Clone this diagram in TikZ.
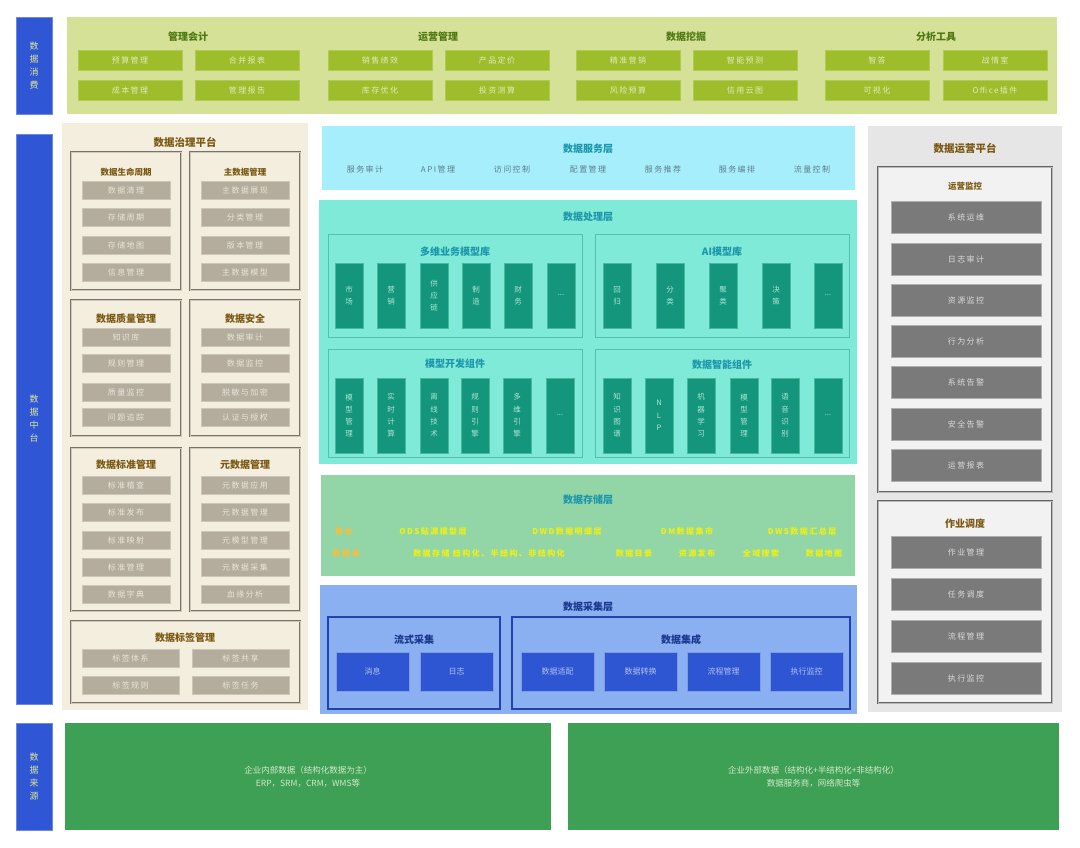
\documentclass[tikz,border=0pt]{standalone}
\usepackage{fontspec}
\setmainfont{Noto Sans CJK SC}
\newfontfamily\spfont{Noto Sans CJK SC}[LetterSpace=18]
\definecolor{lblue}{RGB}{47,86,212}
\definecolor{lbltext}{RGB}{225,232,150}
\definecolor{band}{RGB}{212,225,150}
\definecolor{bandtitle}{RGB}{78,120,18}
\definecolor{bitem}{RGB}{157,189,43}
\definecolor{bitemtext}{RGB}{225,236,185}
\definecolor{cream}{RGB}{243,238,222}
\definecolor{gborder}{RGB}{122,114,106}
\definecolor{brown}{RGB}{122,88,18}
\definecolor{gitem}{RGB}{180,173,157}
\definecolor{gitemtext}{RGB}{232,228,218}
\definecolor{svc}{RGB}{166,238,252}
\definecolor{teal}{RGB}{28,150,170}
\definecolor{svctext}{RGB}{95,125,140}
\definecolor{proc}{RGB}{128,234,216}
\definecolor{procborder}{RGB}{88,192,170}
\definecolor{bar}{RGB}{20,150,125}
\definecolor{barborder}{RGB}{70,185,155}
\definecolor{bartext}{RGB}{175,228,212}
\definecolor{stor}{RGB}{146,214,168}
\definecolor{storyellow}{RGB}{238,240,20}
\definecolor{stororange}{RGB}{245,190,60}
\definecolor{coll}{RGB}{138,176,242}
\definecolor{colltitle}{RGB}{25,55,140}
\definecolor{collborder}{RGB}{35,65,170}
\definecolor{cbox}{RGB}{47,86,210}
\definecolor{cboxtext}{RGB}{175,192,240}
\definecolor{opsbg}{RGB}{230,230,230}
\definecolor{opssub}{RGB}{242,242,242}
\definecolor{opsborder}{RGB}{100,100,100}
\definecolor{opsitem}{RGB}{122,122,122}
\definecolor{opstext}{RGB}{218,218,218}
\definecolor{src}{RGB}{61,160,85}
\definecolor{srctext}{RGB}{212,232,200}
\newcommand\bx[7]{\node[#6, minimum width={(#4)-(#2)}, minimum height={(#5)-(#3)}] (#1) at ({((#2)+(#4))/2},{((#3)+(#5))/2}) {#7};}
\tikzset{
  every node/.style={inner sep=0pt, outer sep=0pt},
  lbl/.style={fill=lblue, draw=lblue!70!white, line width=0.6pt, text=lbltext, align=center, font=\fontsize{9}{13}\selectfont},
  bandbg/.style={fill=band},
  bandttl/.style={text=bandtitle, font=\fontsize{10}{12}\selectfont\bfseries},
  bitembox/.style={fill=bitem, draw=bitem!80!white, line width=0.5pt, text=bitemtext, font=\fontsize{8}{9}\selectfont\spfont},
  govbg/.style={fill=cream},
  govsub/.style={draw=gborder, double=cream!70!gborder, double distance=0.7pt, line width=0.8pt},
  govttl/.style={text=brown, font=\fontsize{10.5}{12}\selectfont\bfseries},
  govsttl/.style={text=brown, font=\fontsize{10}{12}\selectfont\bfseries},
  govsttls/.style={text=brown, font=\fontsize{8.5}{10}\selectfont\bfseries},
  gitembox/.style={fill=gitem, draw=gitem!70!white, line width=0.5pt, text=gitemtext, font=\fontsize{8}{9}\selectfont\spfont},
  svcbg/.style={fill=svc, draw=white, line width=1pt},
  layttl/.style={text=teal, font=\fontsize{10}{12}\selectfont\bfseries},
  svcitem/.style={text=svctext, font=\fontsize{8}{9}\selectfont\spfont},
  procbg/.style={fill=proc, draw=white, line width=1pt},
  procsub/.style={draw=procborder, line width=1pt},
  barbox/.style={fill=bar, draw=barborder, line width=0.6pt, text=bartext, align=center, font=\fontsize{7.5}{12.3}\selectfont},
  storbg/.style={fill=stor, draw=white, line width=1pt},
  stortext/.style={text=storyellow, font=\fontsize{8}{9}\selectfont\spfont\bfseries},
  storotext/.style={text=stororange, font=\fontsize{8}{9}\selectfont\spfont\bfseries},
  collbg/.style={fill=coll, draw=white, line width=1pt},
  collttl/.style={text=colltitle, font=\fontsize{10}{12}\selectfont\bfseries},
  collsub/.style={draw=collborder, line width=1.6pt},
  cboxs/.style={fill=cbox, draw=cbox!60!white, line width=0.5pt, text=cboxtext, font=\fontsize{8}{9}\selectfont},
  opsbgs/.style={fill=opsbg},
  opssubs/.style={fill=opssub, draw=opsborder, double=opssub!60!opsborder, double distance=0.6pt, line width=0.8pt},
  opsitembox/.style={fill=opsitem, draw=opsitem!60!white, line width=0.6pt, text=opstext, font=\fontsize{8}{9}\selectfont\spfont},
  srcbox/.style={fill=src, text=srctext, align=center, font=\fontsize{8.5}{13}\selectfont},
}
\begin{document}
\begin{tikzpicture}[x=1pt,y=-1pt]
\useasboundingbox (0,0) rectangle (1080,847);
\fill[white] (0,0) rectangle (1080,847);
% left labels
\bx{L1}{16}{17}{52}{114}{lbl}{数\\据\\消\\费}
\bx{L2}{16}{134}{52}{704}{lbl}{数\\据\\中\\台}
\bx{L3}{16}{723}{52}{830}{lbl}{数\\据\\来\\源}
% top band
\bx{consume}{67}{17}{1057}{114}{bandbg}{}
\node[bandttl] (t1) at (188,37) {管理会计};
\node[bandttl] (t2) at (438,37) {运营管理};
\node[bandttl] (t3) at (686,37) {数据挖掘};
\node[bandttl] (t4) at (936,37) {分析工具};
\foreach \n/\x/\y/\t in {a1/78/50/预算管理, a2/195/50/合并报表, a3/328/50/销售绩效, a4/445/50/产品定价, a5/576/50/精准营销, a6/693/50/智能预测, a7/825/50/智答, a8/943/50/战情室,
  b1/78/80/成本管理, b2/195/80/管理报告, b3/328/80/库存优化, b4/445/80/投资测算, b5/576/80/风险预算, b6/693/80/信用云图, b7/825/80/可视化, b8/943/80/Office插件}
  {\bx{\n}{\x}{\y}{\x+104}{\y+20}{bitembox}{\t}}
% governance platform
\bx{gov}{62}{123}{308}{710}{govbg}{}
\node[govttl] (govt) at (185,142) {数据治理平台};
\bx{g1}{71}{152}{181}{290}{govsub}{}
\bx{g2}{190}{152}{300}{290}{govsub}{}
\bx{g3}{71}{300}{181}{436}{govsub}{}
\bx{g4}{190}{300}{300}{436}{govsub}{}
\bx{g5}{71}{448}{181}{611}{govsub}{}
\bx{g6}{190}{448}{300}{611}{govsub}{}
\bx{g7}{71}{621}{300}{703}{govsub}{}
\node[govsttls] (g1t) at (126,172) {数据生命周期};
\node[govsttls] (g2t) at (245,172) {主数据管理};
\node[govsttl] (g3t) at (126,319) {数据质量管理};
\node[govsttl] (g4t) at (245,319) {数据安全};
\node[govsttl] (g5t) at (126,465) {数据标准管理};
\node[govsttl] (g6t) at (245,465) {元数据管理};
\node[govsttl] (g7t) at (185,638) {数据标签管理};
\foreach \n/\x/\y/\t in {p1/82/181/数据清理, p2/82/208/存储周期, p3/82/236/存储地图, p4/82/263/信息管理,
  q1/201/181/主数据展现, q2/201/208/分类管理, q3/201/236/版本管理, q4/201/263/主数据模型,
  p5/82/328/知识库, p6/82/354/规则管理, p7/82/383/质量监控, p8/82/408/问题追踪,
  q5/201/328/数据审计, q6/201/354/数据监控, q7/201/383/脱敏与加密, q8/201/408/认证与授权,
  p9/82/476/标准稽查, p10/82/503/标准发布, p11/82/531/标准映射, p12/82/558/标准管理, p13/82/585/数据字典,
  q9/201/476/元数据应用, q10/201/503/元数据管理, q11/201/531/元模型管理, q12/201/558/元数据采集, q13/201/585/血缘分析}
  {\bx{\n}{\x}{\y}{\x+88}{\y+18}{gitembox}{\t}}
\foreach \n/\x/\y/\t in {r1/82/649/标签体系, r2/192/649/标签共享, r3/82/676/标签规则, r4/192/676/标签任务}
  {\bx{\n}{\x}{\y}{\x+97}{\y+18}{gitembox}{\t}}
% service layer
\bx{svc}{321}{125}{855}{190}{svcbg}{}
\node[layttl] (svct) at (588,149) {数据服务层};
\foreach \n/\x/\t in {s1/365/服务审计, s2/438/API管理, s3/512/访问控制, s4/588/配置管理, s5/663/服务推荐, s6/737/服务编排, s7/812/流量控制}
  {\node[svcitem] (\n) at (\x,169) {\t};}
% processing layer
\bx{proc}{318}{199}{857}{464}{procbg}{}
\node[layttl] (proct) at (588,217) {数据处理层};
\bx{pa}{328}{234}{582}{337}{procsub}{}
\bx{pb}{595}{234}{849}{337}{procsub}{}
\bx{pc}{328}{349}{582}{457}{procsub}{}
\bx{pd}{595}{349}{849}{457}{procsub}{}
\node[layttl] (pat) at (455,252) {多维业务模型库};
\node[layttl] (pbt) at (722,252) {AI模型库};
\node[layttl] (pct) at (455,364) {模型开发组件};
\node[layttl] (pdt) at (722,365) {数据智能组件};
\foreach \n/\x/\t in {ba1/335/{市\\场}, ba2/377/{营\\销}, ba3/420/{供\\应\\链}, ba4/462/{制\\造}, ba5/504/{财\\务}, ba6/547/{...},
  bb1/603/{回\\归}, bb2/656/{分\\类}, bb3/709/{聚\\类}, bb4/762/{决\\策}, bb5/814/{...}}
  {\bx{\n}{\x}{263}{\x+28}{328}{barbox}{\t}}
\foreach \n/\x/\t in {bc1/335/{模\\型\\管\\理}, bc2/377/{实\\时\\计\\算}, bc3/420/{离\\线\\技\\术}, bc4/461/{规\\则\\引\\擎}, bc5/503/{多\\维\\引\\擎}, bc6/546/{...},
  bd1/603/{知\\识\\图\\谱}, bd2/645/{N\\L\\P}, bd3/687/{机\\器\\学\\习}, bd4/730/{模\\型\\管\\理}, bd5/771/{语\\音\\识\\别}, bd6/814/{...}}
  {\bx{\n}{\x}{378}{\x+28}{453}{barbox}{\t}}
% storage layer
\bx{stor}{320}{474}{855}{576}{storbg}{}
\node[layttl] (stort) at (588,500) {数据存储层};
\node[storotext] (st1) at (344,531) {数仓};
\node[stortext] (st2) at (433,531) {ODS贴源模型层};
\node[stortext] (st3) at (567,531) {DWD数据明细层};
\node[stortext] (st4) at (687,531) {DM数据集市};
\node[stortext] (st5) at (802,531) {DWS数据汇总层};
\node[storotext] (st6) at (346,553) {数据湖};
\node[stortext] (st7) at (489,553) {数据存储\ 结构化、半结构、非结构化};
\node[stortext] (st8) at (634,553) {数据目录};
\node[stortext] (st9) at (697,553) {资源发布};
\node[stortext] (st10) at (761,553) {全域搜索};
\node[stortext] (st11) at (824,553) {数据地图};
% collection layer
\bx{coll}{319}{584}{857}{714}{collbg}{}
\node[collttl] (collt) at (588,607) {数据采集层};
\bx{ca}{328}{617}{500}{709}{collsub}{}
\bx{cb}{512}{617}{850}{709}{collsub}{}
\node[collttl] (cat) at (414,640) {流式采集};
\node[collttl] (cbt) at (681,640) {数据集成};
\foreach \n/\x/\t in {c1/336/消息, c2/420/日志, c3/521/数据适配, c4/604/数据转换, c5/687/流程管理, c6/770/执行监控}
  {\bx{\n}{\x}{652}{\x+73}{691}{cboxs}{\t}}
% operations platform
\bx{ops}{868}{126}{1062}{712}{opsbgs}{}
\node[govttl] (opst) at (965,148) {数据运营平台};
\bx{o1}{878}{167}{1052}{492}{opssubs}{}
\bx{o2}{878}{501}{1052}{703}{opssubs}{}
\node[govsttls] (o1t) at (965,186) {运营监控};
\node[govsttl] (o2t) at (965,524) {作业调度};
\foreach \n/\y/\t in {m1/201/系统运维, m2/243/日志审计, m3/284/资源监控, m4/325/行为分析, m5/366/系统告警, m6/408/安全告警, m7/449/运营报表,
  j1/536/作业管理, j2/578/任务调度, j3/620/流程管理, j4/662/执行监控}
  {\bx{\n}{891}{\y}{1041}{\y+32}{opsitembox}{\t}}
% sources
\bx{src1}{65}{723}{551}{830}{srcbox}{企业内部数据（结构化数据为主）\\ERP，SRM，CRM，WMS等}
\bx{src2}{568}{723}{1059}{830}{srcbox}{企业外部数据（结构化+半结构化+非结构化）\\数据服务商，网络爬虫等}
\end{tikzpicture}
\end{document}
